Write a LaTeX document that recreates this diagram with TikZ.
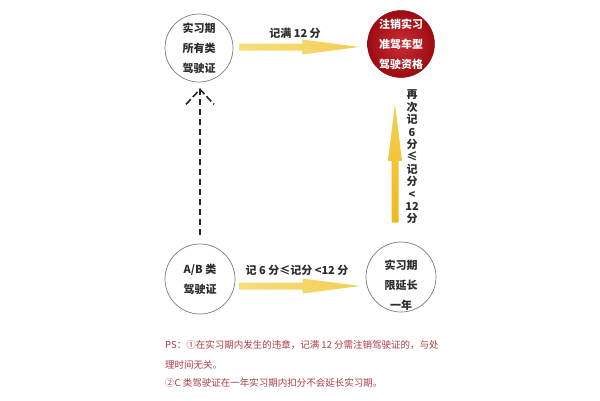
\documentclass[tikz,border=0pt]{standalone}
\usepackage{fontspec}
\setmainfont{Noto Sans CJK SC}
\usetikzlibrary{calc}
\definecolor{ygold}{RGB}{240,186,28}
\definecolor{ylight}{RGB}{245,222,125}
\definecolor{ytip}{RGB}{244,206,85}
\definecolor{circgray}{RGB}{125,125,125}
\definecolor{darkred}{RGB}{196,22,30}
\definecolor{deepred}{RGB}{150,10,15}
\definecolor{notered}{RGB}{172,58,70}
\definecolor{labgray}{RGB}{45,45,45}
\begin{document}
\begin{tikzpicture}[x=1pt,y=-1pt,
  circ/.style={circle,draw=circgray,line width=0.7pt,minimum size=68pt,inner sep=0pt},
  redcirc/.style={circle,draw=deepred,line width=0.6pt,inner color=darkred!90!white,outer color=deepred!85!darkred,minimum size=66pt,inner sep=0pt},
  ctext/.style={font=\fontsize{11}{20}\selectfont\bfseries,text=labgray,align=center},
  wtext/.style={font=\fontsize{11}{20}\selectfont\bfseries,text=white,align=center},
  lab/.style={font=\fontsize{11}{13}\selectfont\bfseries,text=labgray},
  vlab/.style={font=\fontsize{11}{12.4}\selectfont\bfseries,text=labgray,align=center},
  note/.style={font=\fontsize{9.5}{11}\selectfont,text=notered,anchor=west,inner sep=0pt},
  dline/.style={line width=1.6pt,dash pattern=on 6pt off 4pt,black!85},
  hshade/.style={left color=ylight,middle color=ygold,right color=ytip},
  vshade/.style={bottom color=ygold,top color=ytip}
]
\useasboundingbox[fill=white] (0,0) rectangle (600,400);

% circles
\node[circ,ctext] (tl) at (199,48) {实习期\\所有类\\驾驶证};
\node[redcirc,wtext] (rc) at (401,44) {注销实习\\准驾车型\\驾驶资格};
\node[circ,ctext,minimum size=70pt] (bl) at (200,279) {A/B 类\\驾驶证};
\node[circ,minimum size=70pt] (br) at (401,277) {};
\node[ctext] (brt) at ($(br)+(0,8)$) {实习期\\限延长\\一年};

% top fat arrow
\coordinate (a1) at ($(tl.east)+(6,-1)$);
\coordinate (a2) at ($(rc.west)+(-8,3)$);
\shade[hshade] ($(a1)+(0,-3.5)$) -- ($(a2)+(-57,-3.5)$) -- ($(a2)+(-57,-7.5)$) -- (a2)
  -- ($(a2)+(-57,7.5)$) -- ($(a2)+(-57,3.5)$) -- ($(a1)+(0,3.5)$) -- cycle;
\node[lab] (l1) at (295,33) {记满 12 分};

% bottom fat arrow
\coordinate (b1) at ($(bl.east)+(4,7)$);
\coordinate (b2) at ($(br.west)+(-6,9)$);
\shade[hshade] ($(b1)+(0,-3.5)$) -- ($(b2)+(-57,-3.5)$) -- ($(b2)+(-57,-7.5)$) -- (b2)
  -- ($(b2)+(-57,7.5)$) -- ($(b2)+(-57,3.5)$) -- ($(b1)+(0,3.5)$) -- cycle;
\node[lab] (l2) at (297,270) {记 6 分≤记分 <12 分};

% vertical fat arrow
\coordinate (v1) at ($(br.north)+(-6,-19)$);
\coordinate (v2) at ($(rc.south)+(-6,26)$);
\shade[vshade] ($(v1)+(-3.5,0)$) -- ($(v2)+(-3.5,57)$) -- ($(v2)+(-7,57)$) -- (v2)
  -- ($(v2)+(7,57)$) -- ($(v2)+(3.5,57)$) -- ($(v1)+(3.5,0)$) -- cycle;
\node[vlab] (l3) at (412,157) {再\\次\\记\\6\\分\\≤\\记\\分\\<\\12\\分};

% dashed arrow
\coordinate (dtip) at ($(tl.south)+(1,7)$);
\draw[dline] ($(bl.north)+(0,-9)$) -- (dtip);
\draw[dline,dash pattern=on 7pt off 3pt] ($(dtip)+(-14,15)$) -- (dtip) -- ($(dtip)+(14,15)$);

% notes
\node[note] (n1) at (165,345) {PS：①在实习期内发生的违章，记满 12 分需注销驾驶证的，与处};
\node[note] (n2) at (165,365) {理时间无关。};
\node[note] (n3) at (165,383) {②C 类驾驶证在一年实习期内扣分不会延长实习期。};
\end{tikzpicture}
\end{document}
